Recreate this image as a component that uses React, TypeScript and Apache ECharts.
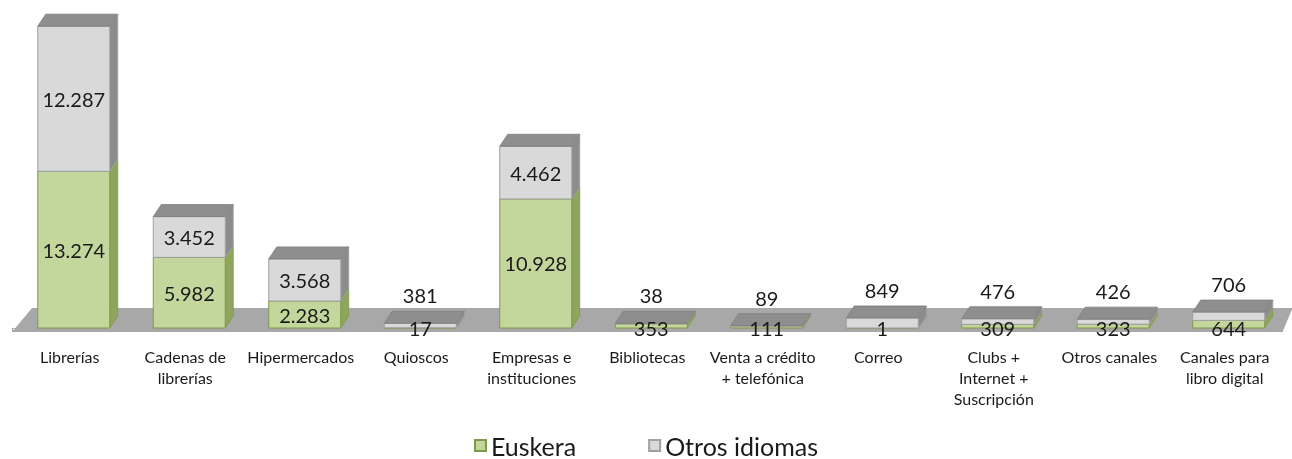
import React, { useEffect, useRef } from "react";
import * as echarts from "echarts";

const categories = [
  "Librerías",
  "Cadenas de\nlibrerías",
  "Hipermercados",
  "Quioscos",
  "Empresas e\ninstituciones",
  "Bibliotecas",
  "Venta a crédito\n+ telefónica",
  "Correo",
  "Clubs +\nInternet +\nSuscripción",
  "Otros canales",
  "Canales para\nlibro digital",
];
const euskera = [13274, 5982, 2283, 17, 10928, 353, 111, 1, 309, 323, 644];
const otros = [12287, 3452, 3568, 381, 4462, 38, 89, 849, 476, 426, 706];
const seriesNames = ["Euskera", "Otros idiomas"];

const FONT = "Lato, 'Open Sans', sans-serif";
const GREEN = "#c3d69b";
const GREEN_SIDE = "#8ea55e";
const GREEN_EDGE = "#7f9a48";
const GREY = "#d9d9d9";
const GREY_SIDE = "#8c8c8c";
const GREY_EDGE = "#a0a0a0";
const TOP = "#8e8e8e";
const FLOOR = "#a8a8a8";

const fmt = (v: number) => String(v).replace(/\B(?=(\d{3})+(?!\d))/g, ".");

export default function App() {
  const ref = useRef<HTMLDivElement>(null);
  useEffect(() => {
    if (!ref.current) return;
    const chart = echarts.init(ref.current, null, { renderer: "svg" });
    const barData = categories.map((_, i) => [i, euskera[i], otros[i]]);

    const renderBar = (params: any, api: any) => {
      const i = api.value(0);
      const e = api.value(1);
      const o = api.value(2);
      const p0 = api.coord([i, 0]);
      const pe = api.coord([i, e]);
      const pt = api.coord([i, e + o]);
      const w = 72;
      const cx = p0[0] + 4;
      const x0 = cx - w / 2;
      const x1 = cx + w / 2;
      const dx = 8;
      const dy = 12;
      const y0 = p0[1];
      const ye = pe[1];
      const yt = pt[1];
      const children: any[] = [
        {
          type: "polygon",
          shape: { points: [[x1, y0], [x1 + dx, y0 - dy], [x1 + dx, ye - dy], [x1, ye]] },
          style: { fill: GREEN_SIDE, stroke: GREEN_EDGE, lineWidth: 0.8 },
        },
        {
          type: "rect",
          shape: { x: x0, y: ye, width: w, height: y0 - ye },
          style: { fill: GREEN, stroke: GREEN_EDGE, lineWidth: 1 },
        },
        {
          type: "polygon",
          shape: { points: [[x1, ye], [x1 + dx, ye - dy], [x1 + dx, yt - dy], [x1, yt]] },
          style: { fill: GREY_SIDE, stroke: GREY_EDGE, lineWidth: 0.8 },
        },
        {
          type: "rect",
          shape: { x: x0, y: yt, width: w, height: ye - yt },
          style: { fill: GREY, stroke: GREY_EDGE, lineWidth: 1 },
        },
        {
          type: "polygon",
          shape: { points: [[x0, yt], [x0 + dx, yt - dy], [x1 + dx, yt - dy], [x1, yt]] },
          style: { fill: TOP, stroke: "#7d7d7d", lineWidth: 0.8 },
        },
      ];
      const hE = y0 - ye;
      const hO = ye - yt;
      children.push({
        type: "text",
        x: cx,
        y: hE >= 20 ? (y0 + ye) / 2 : y0,
        z2: 10,
        style: {
          text: fmt(e),
          fill: "#1a1a1a",
          fontSize: 20,
          fontFamily: FONT,
          align: "center",
          verticalAlign: "middle",
        },
      });
      children.push({
        type: "text",
        x: cx,
        y: hO >= 20 ? (ye + yt) / 2 : yt - 28,
        z2: 10,
        style: {
          text: fmt(o),
          fill: "#1a1a1a",
          fontSize: 20,
          fontFamily: FONT,
          align: "center",
          verticalAlign: "middle",
        },
      });
      return { type: "group", children };
    };

    const renderFloor = (params: any, api: any) => {
      const c0 = api.coord([0, 0]);
      const band = api.size([1, 0])[0];
      const left = c0[0] - band / 2;
      const right = left + band * categories.length;
      const y0 = c0[1];
      return {
        type: "polygon",
        shape: {
          points: [
            [left, y0 + 4],
            [right, y0 + 4],
            [right + 10, y0 - 20],
            [left + 20, y0 - 20],
          ],
        },
        style: { fill: FLOOR },
      };
    };

    chart.setOption({
      animation: false,
      grid: { left: 12, right: 9.5, top: 21, bottom: 131 },
      legend: {
        data: seriesNames,
        top: 428,
        left: "center",
        itemGap: 72,
        itemWidth: 11,
        itemHeight: 11,
        icon: "rect",
        textStyle: { fontSize: 25, fontFamily: FONT, color: "#1a1a1a" },
      },
      xAxis: {
        type: "category",
        data: categories,
        offset: 12,
        axisLine: { lineStyle: { color: "#bdbdbd" } },
        axisTick: { show: true, length: 4, lineStyle: { color: "#a0a0a0" } },
        axisLabel: {
          interval: 0,
          fontSize: 16,
          fontFamily: FONT,
          color: "#1a1a1a",
          lineHeight: 21,
          margin: 6,
        },
      },
      yAxis: { type: "value", min: 0, max: 26000, show: false, splitLine: { show: false } },
      series: [
        {
          type: "custom",
          name: "floor",
          z: 1,
          data: [[0, 0]],
          renderItem: renderFloor,
          silent: true,
        },
        {
          type: "custom",
          name: "bars",
          z: 2,
          data: barData,
          renderItem: renderBar,
          encode: { x: 0, y: [1, 2] },
        },
        {
          type: "bar",
          name: seriesNames[0],
          data: [],
          itemStyle: { color: GREEN, borderColor: GREEN_EDGE, borderWidth: 1 },
        },
        {
          type: "bar",
          name: seriesNames[1],
          data: [],
          itemStyle: { color: GREY, borderColor: GREY_EDGE, borderWidth: 1 },
        },
      ],
    });
    return () => chart.dispose();
  }, []);
  return (
    <div
      ref={ref}
      style={{ position: "fixed", left: 0, top: 0, width: 1292, height: 459 }}
    />
  );
}
